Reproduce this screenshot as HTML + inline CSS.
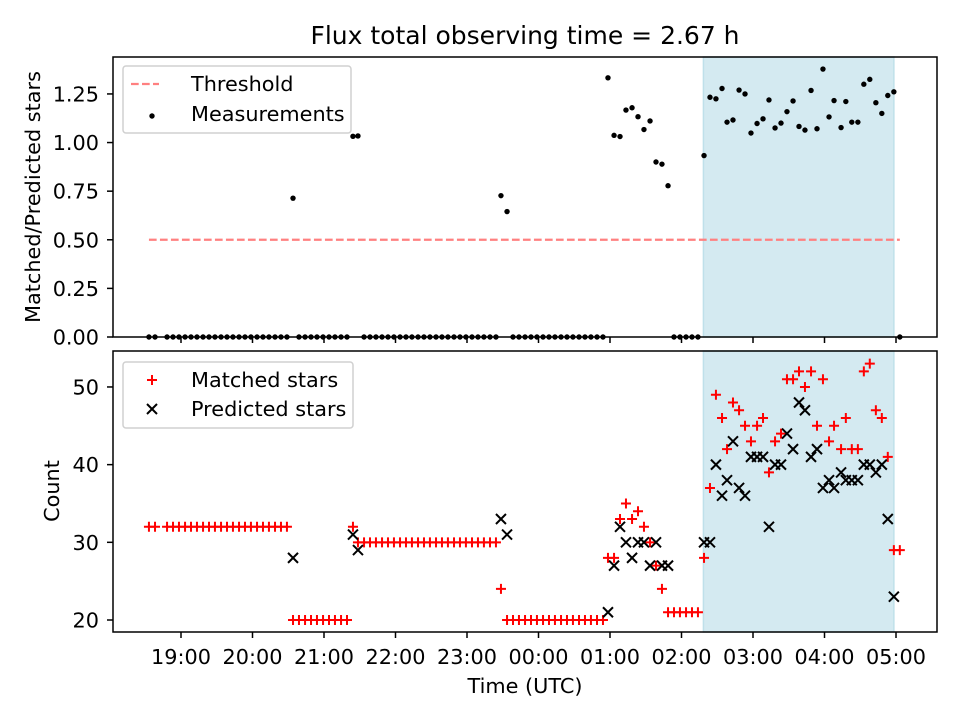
<!DOCTYPE html>
<html><head><meta charset="utf-8"><style>
body{margin:0;background:#fff}
svg{display:block;font-family:"DejaVu Sans","Liberation Sans",sans-serif}
</style></head><body>
<svg id="chart" width="960" height="720" viewBox="0 0 960 720">
<script>
// minutes since 18:00 UTC
const times=[33.1,38.2,48.3,53.3,58.3,63.4,68.4,73.4,78.5,83.5,88.5,93.6,98.6,103.6,108.7,113.7,118.7,123.8,128.8,133.8,138.9,143.9,148.9,
154.0,159.0,164.1,169.1,174.1,179.2,184.2,189.2,194.3,199.3,
204.3,208.5,
213.6,218.6,223.6,228.7,233.7,238.7,243.8,248.8,253.8,258.9,263.9,268.9,274.0,279.0,284.0,289.1,294.1,299.1,304.2,309.2,314.2,319.3,324.3,
328.5,333.6,
338.6,343.6,348.7,353.7,358.7,363.8,368.8,373.8,378.9,383.9,388.9,394.0,399.0,404.0,409.1,414.1,
418.3,423.4,428.4,433.4,438.5,443.5,448.5,453.6,458.6,463.6,468.7,
473.7,478.7,483.8,488.8,493.8,
498.9,503.9,508.9,514.0,518.2,523.2,528.3,533.3,538.3,543.4,548.4,553.4,558.5,563.5,568.5,573.6,578.6,583.6,588.7,593.7,598.7,603.8,608.0,613.9,617.9,622.9,628.0,633.0,638.0,643.1,648.1,653.1,658.2,663.2];
const matched=[32,32,32,32,32,32,32,32,32,32,32,32,32,32,32,32,32,32,32,32,32,32,32,
20,20,20,20,20,20,20,20,20,20,
32,30,
30,30,30,30,30,30,30,30,30,30,30,30,30,30,30,30,30,30,30,30,30,30,30,
24,20,
20,20,20,20,20,20,20,20,20,20,20,20,20,20,20,20,
28,28,33,35,33,34,32,30,27,24,21,
21,21,21,21,21,
28,37,49,46,42,48,47,45,43,45,46,39,43,44,51,51,52,50,52,45,51,43,45,42,46,42,42,52,53,47,46,41,29,29];
const predicted=[null,null,null,null,null,null,null,null,null,null,null,null,null,null,null,null,null,null,null,null,null,null,null,
28,null,null,null,null,null,null,null,null,null,
31,29,
null,null,null,null,null,null,null,null,null,null,null,null,null,null,null,null,null,null,null,null,null,null,null,
33,31,
null,null,null,null,null,null,null,null,null,null,null,null,null,null,null,null,
21,27,32,30,28,30,30,27,30,27,27,
null,null,null,null,null,
30,30,40,36,38,43,37,36,41,41,41,32,40,40,44,42,48,47,41,42,37,38,37,39,38,38,38,40,40,39,40,33,23,null];
const ratio=[0,0,0,0,0,0,0,0,0,0,0,0,0,0,0,0,0,0,0,0,0,0,0,
0.714,0,0,0,0,0,0,0,0,0,
1.032,1.034,
0,0,0,0,0,0,0,0,0,0,0,0,0,0,0,0,0,0,0,0,0,0,0,
0.727,0.645,
0,0,0,0,0,0,0,0,0,0,0,0,0,0,0,0,
1.333,1.037,1.031,1.167,1.179,1.133,1.067,1.111,0.900,0.889,0.778,
0,0,0,0,0,
0.933,1.233,1.225,1.278,1.105,1.116,1.270,1.250,1.049,1.098,1.122,1.219,1.075,1.100,1.159,1.214,1.083,1.064,1.268,1.071,1.378,1.132,1.216,1.077,1.211,1.105,1.105,1.300,1.325,1.205,1.150,1.242,1.261,0];
const threshold=0.5;
const shadeStart=498.4, shadeEnd=658.2;
const xTicks=[60,120,180,240,300,360,420,480,540,600,660];
const xTickLabels=["19:00","20:00","21:00","22:00","23:00","00:00","01:00","02:00","03:00","04:00","05:00"];
const topTicks=[0,0.25,0.5,0.75,1.0,1.25];
const topTickLabels=["0.00","0.25","0.50","0.75","1.00","1.25"];
const botTicks=[20,30,40,50];
const botTickLabels=["20","30","40","50"];
</script>
</svg>
<script>
const NS="http://www.w3.org/2000/svg";
const svg=document.getElementById('chart');
const L=113,R=937,T1=57,B1=337,T2=351,B2=632;
const FS=20.8;
const xmin=2.94,xmax=694.4;
const X=v=>L+(v-xmin)/(xmax-xmin)*(R-L);
const Y1=v=>B1-(v-0)/(1.44-0)*(B1-T1);
const Y2=v=>B2-(v-18.455)/(54.63-18.455)*(B2-T2);
function mk(tag,attrs,parent){const e=document.createElementNS(NS,tag);for(const k in attrs)e.setAttribute(k,attrs[k]);(parent||svg).appendChild(e);return e;}
function txt(s,attrs){const e=mk('text',attrs);e.textContent=s;return e;}

[[T1,B1,'top'],[T2,B2,'bottom']].forEach(([t,b,n])=>{
  const r=mk('rect',{x:X(shadeStart),y:t,width:X(shadeEnd)-X(shadeStart),height:b-t,fill:'#d4eaf1',stroke:'#bfe0ea','stroke-width':1.5});
  
  
});
const th=mk('line',{x1:X(times[0]),x2:X(times[times.length-1]),y1:Y1(threshold),y2:Y1(threshold),stroke:'#ff8080','stroke-width':2.2,'stroke-dasharray':'7.7,3.3'});


times.forEach((t,i)=>{
  const c=mk('circle',{cx:X(t),cy:Y1(ratio[i]),r:2.7,fill:'#000'});
  
  
});
times.forEach((t,i)=>{
  const x=X(t),y=Y2(matched[i]);
  const p=mk('path',{d:`M${x-5},${y}h10M${x},${y-5}v10`,stroke:'#ff0000','stroke-width':2,fill:'none'});
  
  
});
times.forEach((t,i)=>{
  if(predicted[i]===null)return;
  const x=X(t),y=Y2(predicted[i]);
  const p=mk('path',{d:`M${x-5},${y-5}l10,10M${x-5},${y+5}l10,-10`,stroke:'#000','stroke-width':2,fill:'none'});
  
  
});
[[T1,B1,'top'],[T2,B2,'bottom']].forEach(([t,b,n])=>{
  const f=mk('rect',{x:L,y:t,width:R-L,height:b-t,fill:'none',stroke:'#000','stroke-width':1.5});
  
  
  xTicks.forEach((v,i)=>{
    mk('line',{x1:X(v),x2:X(v),y1:b,y2:b+6,stroke:'#000','stroke-width':1.5});
    if(n==='bottom'){
      const tl=txt(xTickLabels[i],{x:X(v),y:b+32,'font-size':FS,'text-anchor':'middle'});
      
      
    }
  });
});
topTicks.forEach((v,i)=>{
  mk('line',{x1:L-6,x2:L,y1:Y1(v),y2:Y1(v),stroke:'#000','stroke-width':1.5});
  const tl=txt(topTickLabels[i],{x:L-14,y:Y1(v)+7.5,'font-size':FS,'text-anchor':'end'});
  
  
});
botTicks.forEach((v,i)=>{
  mk('line',{x1:L-6,x2:L,y1:Y2(v),y2:Y2(v),stroke:'#000','stroke-width':1.5});
  const tl=txt(botTickLabels[i],{x:L-14,y:Y2(v)+7.5,'font-size':FS,'text-anchor':'end'});
  
  
});
</script>
<script>
(function(){
const s=document.getElementById('chart');
s.insertAdjacentHTML('beforeend',`
<text x="525" y="44" font-size="25" text-anchor="middle">Flux total observing time = 2.67 h</text>
<text transform="translate(40,197) rotate(-90)" font-size="20.8" text-anchor="middle">Matched/Predicted stars</text>
<text transform="translate(59,491) rotate(-90)" font-size="20.8" text-anchor="middle">Count</text>
<text x="525" y="693" font-size="20.8" text-anchor="middle">Time (UTC)</text>
<g>
<rect x="123" y="66" width="228" height="67" rx="3" fill="#fff" fill-opacity="0.8" stroke="#d0d0d0" stroke-width="1.5"/>
<line x1="131" x2="159" y1="84" y2="84" stroke="#ff8080" stroke-width="2.2" stroke-dasharray="7.7,3.3"/>
<text x="191" y="91" font-size="20.8">Threshold</text>
<circle cx="152" cy="116" r="2.7" fill="#000"/>
<text x="191" y="121" font-size="20.8">Measurements</text>
</g>
<g>
<rect x="123" y="362" width="230" height="66" rx="3" fill="#fff" fill-opacity="0.8" stroke="#d0d0d0" stroke-width="1.5"/>
<path d="M147,380h10M152,375v10" stroke="#ff0000" stroke-width="2"/>
<text x="191" y="387" font-size="20.8">Matched stars</text>
<path d="M147,404l10,10M147,414l10,-10" stroke="#000" stroke-width="2"/>
<text x="191" y="416" font-size="20.8">Predicted stars</text>
</g>`);
})();
</script>
</body></html>
